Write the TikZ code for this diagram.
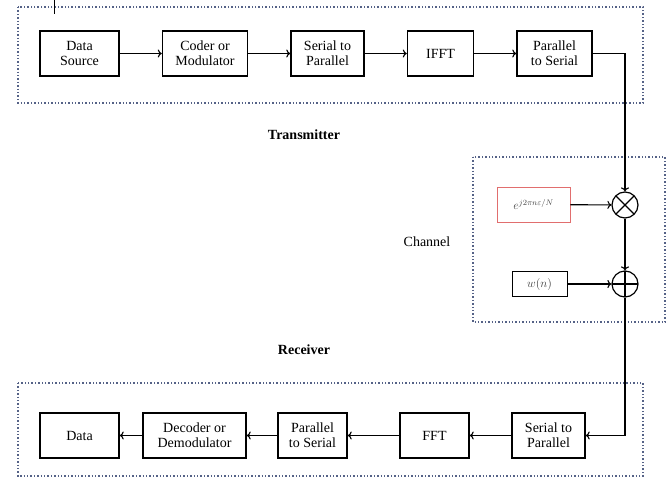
\documentclass[tikz,border=0pt]{standalone}
\usepackage{fontspec}
\setmainfont{Liberation Serif}
\usetikzlibrary{positioning,arrows.meta}

\definecolor{grpblue}{RGB}{85,98,135}
\definecolor{boxred}{RGB}{225,110,110}

\tikzset{
    blk/.style={draw, line width=1.5pt, minimum height=45pt, inner sep=1pt, align=center, font=\fontsize{14}{15}\selectfont},
    grp/.style={draw=grpblue, dotted, line width=1.4pt},
    chbox/.style={draw, line width=0.7pt, inner sep=2pt, font=\fontsize{12}{14}\selectfont, text=black!75},
    lbl/.style={font=\fontsize{14}{15}\selectfont},
    link/.style={-{To[length=4pt, width=8pt]}, line width=1.1pt},
    mult/.style={circle, draw, line width=1.2pt, minimum size=26pt, inner sep=0pt,
        path picture={\draw[line width=1.2pt] (path picture bounding box.north west) -- (path picture bounding box.south east)
            (path picture bounding box.north east) -- (path picture bounding box.south west);}},
    adder/.style={circle, draw, line width=1.2pt, minimum size=26pt, inner sep=0pt,
        path picture={\draw[line width=1.2pt] (path picture bounding box.north) -- (path picture bounding box.south)
            (path picture bounding box.west) -- (path picture bounding box.east);}}
}

\begin{document}
\begin{tikzpicture}[x=1pt, y=-1pt]
                \useasboundingbox (0,0) rectangle (672,479);
                \draw[grp] (18,7) rectangle (643,103);
                \draw[grp] (473,157) rectangle (665,322);
                \draw[grp] (18,383) rectangle (643,476);
                \draw[line width=0.8pt] (54,0) -- (54,14);

                \node[blk, minimum width=79pt] (dsrc) at (79.5,53.5) {Data\\Source};
                \node[blk, minimum width=85pt, right=42pt of dsrc] (coder) {Coder or\\Modulator};
                \node[blk, minimum width=73pt, right=42pt of coder] (stopT) {Serial to\\Parallel};
                \node[blk, minimum width=66pt, right=42pt of stopT] (ifft) {IFFT};
                \node[blk, minimum width=75pt, right=42pt of ifft] (ptosT) {Parallel\\to Serial};

                \node[lbl, font=\fontsize{14}{15}\selectfont\bfseries] (txlbl) at (304,135) {Transmitter};
                \node[lbl] (chlbl) at (427,242) {Channel};
                \node[lbl, font=\fontsize{14}{15}\selectfont\bfseries] (rxlbl) at (304,350) {Receiver};

                \node[chbox, draw=boxred, minimum width=73pt, minimum height=35pt] (phase) at (533.5,204.5) {$e^{j2\pi n\varepsilon/N}$};
                \node[mult] (mix) at (625,205) {};
                \node[chbox, minimum width=55pt, minimum height=25pt] (noise) at (539.5,284) {$w(n)$};
                \node[adder] (sum) at (625,284) {};

                \node[blk, minimum width=73pt] (stopR) at (548.5,435.5) {Serial to\\Parallel};
                \node[blk, minimum width=69pt] (fft) at (434.5,435.5) {FFT};
                \node[blk, minimum width=69pt] (ptosR) at (312.5,435.5) {Parallel\\to Serial};
                \node[blk, minimum width=103pt] (decoder) at (194.5,435.5) {Decoder or\\Demodulator};
                \node[blk, minimum width=79pt] (dsink) at (79.5,435.5) {Data};

                \draw[link] (dsrc) -- (coder);
                \draw[link] (coder) -- (stopT);
                \draw[link] (stopT) -- (ifft);
                \draw[link] (ifft) -- (ptosT);
                \draw[link] (ptosT.east) -| (mix.north);
                \draw[link] (phase) -- (mix);
                \draw[link] (mix) -- (sum);
                \draw[link] (noise) -- (sum);
                \draw[link] (sum.south) |- (stopR.east);
                \draw[link] (stopR) -- (fft);
                \draw[link] (fft) -- (ptosR);
                \draw[link] (ptosR) -- (decoder);
                \draw[link] (decoder) -- (dsink);
            \end{tikzpicture}
\end{document}
